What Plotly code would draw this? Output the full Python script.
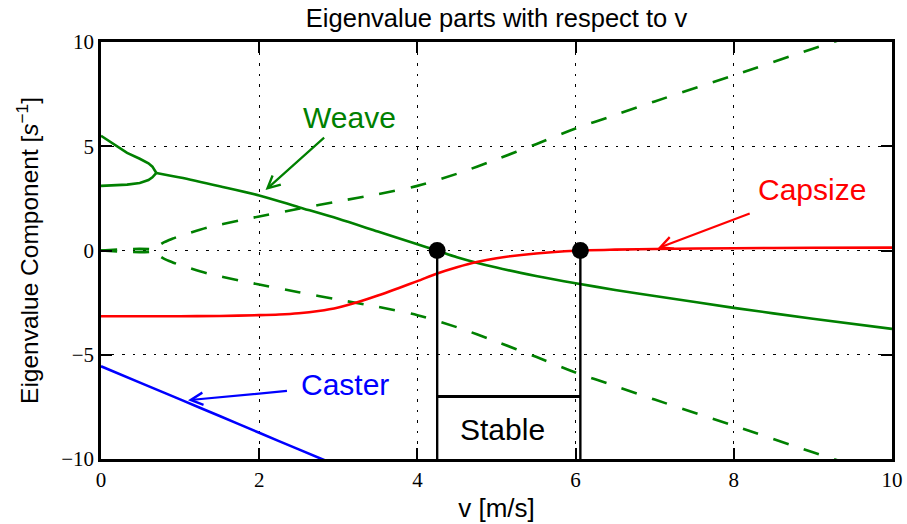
import plotly.graph_objects as go

# ---------------- data ----------------
# weave: two real roots before the bifurcation
weave_pre_speed = [0.0, 0.15, 0.33, 0.49, 0.60, 0.65, 0.70]
weave_pre_upper = [5.50, 5.12, 4.68, 4.40, 4.18, 4.02, 3.72]
weave_pre_lower = [3.10, 3.12, 3.16, 3.24, 3.38, 3.51, 3.72]

# weave: real part after the bifurcation (oscillatory)
weave_speed = [0.70, 1.0, 1.5, 2.0, 2.5, 3.0, 3.5, 4.0, 4.25, 4.5, 5.0, 5.5,
               6.0, 6.5, 7.0, 8.0, 9.0, 10.0]
weave_real = [3.72, 3.50, 3.08, 2.64, 2.08, 1.52, 0.91, 0.30, 0.0, -0.32, -0.82,
              -1.22, -1.57, -1.89, -2.18, -2.75, -3.27, -3.76]

# weave: imaginary part magnitude
imag_speed = [0.0, 0.70, 0.75, 0.80, 0.90, 1.0, 1.35, 1.75, 2.0, 2.5, 3.0, 3.5,
              4.0, 4.5, 5.0, 5.5, 6.0, 6.5, 7.0, 8.0, 9.0, 10.0]
weave_imag = [0.0, 0.0, 0.28, 0.40, 0.56, 0.70, 1.10, 1.44, 1.63, 2.00, 2.36, 2.70,
              3.10, 3.68, 4.37, 5.10, 5.85, 6.50, 7.15, 8.40, 9.68, 10.90]

# capsize
capsize_speed = [0.0, 1.0, 1.5, 2.0, 2.25, 2.5, 2.75, 3.0, 3.25, 3.5, 3.75, 4.0,
                 4.25, 4.5, 4.75, 5.0, 5.5, 6.0, 6.5, 7.0, 8.0, 9.0, 10.0]
capsize_real = [-3.15, -3.15, -3.14, -3.10, -3.07, -3.01, -2.90, -2.73, -2.47,
                -2.16, -1.82, -1.47, -1.10, -0.80, -0.55, -0.37, -0.14, -0.01,
                0.04, 0.07, 0.11, 0.13, 0.14]

# caster
caster_speed = [0.0, 0.5, 1.0, 1.5, 2.0, 2.5, 3.0]
caster_real = [-5.55, -6.35, -7.14, -7.94, -8.74, -9.54, -10.33]

# stable speed range
stable_bounds = [4.25, 6.06]
stable_floor = -10.0
stable_bar = -7.0

x_ticks = [0, 2, 4, 6, 8, 10]
y_ticks = [-10, -5, 0, 5, 10]

GREEN = "#008000"
RED = "#FF0000"
BLUE = "#0000FF"
SANS = "Liberation Sans, Arial, sans-serif"
SERIF = "Liberation Serif, DejaVu Serif, serif"
DASH = "16px,16px"
LW = 2.6

fig = go.Figure()

def add_line(x, y, color, dash="solid", width=LW, shape="spline"):
    fig.add_trace(go.Scatter(x=x, y=y, mode="lines",
                             line=dict(color=color, width=width, dash=dash,
                                       shape=shape, smoothing=0.8),
                             hoverinfo="skip", showlegend=False))

# weave
add_line(weave_pre_speed, weave_pre_upper, GREEN, shape="linear")
add_line(weave_pre_speed, weave_pre_lower, GREEN, shape="linear")
add_line(weave_speed, weave_real, GREEN)
add_line(imag_speed, weave_imag, GREEN, dash=DASH)
add_line(imag_speed, [-v for v in weave_imag], GREEN, dash=DASH)
# capsize
add_line(capsize_speed, capsize_real, RED)
# caster
add_line(caster_speed, caster_real, BLUE)

# stable region
for b in stable_bounds:
    add_line([b, b], [0, stable_floor], "black", width=2.4, shape="linear")
add_line(stable_bounds, [stable_bar, stable_bar], "black", width=3, shape="linear")
fig.add_trace(go.Scatter(x=stable_bounds, y=[0, 0], mode="markers",
                         marker=dict(color="black", size=17),
                         hoverinfo="skip", showlegend=False))

# text labels
def add_text(txt, x, y, color):
    fig.add_annotation(x=x, y=y, xref="x", yref="y", text=txt, showarrow=False,
                       font=dict(family=SANS, size=30, color=color))

add_text("Weave", 3.14, 6.4, GREEN)
add_text("Capsize", 8.99, 2.93, RED)
add_text("Caster", 3.08, -6.43, BLUE)
add_text("Stable", 5.07, -8.6, "black")

# arrows
def add_arrow(x, y, ax, ay, color):
    fig.add_annotation(x=x, y=y, ax=ax, ay=ay, xref="x", yref="y",
                       axref="x", ayref="y", text="", showarrow=True,
                       arrowhead=5, arrowsize=1.1, arrowwidth=2.2,
                       arrowcolor=color)

add_arrow(2.08, 2.90, 2.84, 5.48, GREEN)
add_arrow(7.04, 0.11, 8.22, 1.80, RED)
add_arrow(1.10, -7.18, 2.37, -6.73, BLUE)

axis_common = dict(showline=True, linewidth=2.5, linecolor="black",
                   mirror="allticks", ticks="inside", ticklen=11,
                   tickwidth=1.5, tickcolor="black", automargin=False,
                   showgrid=True, gridcolor="black", gridwidth=1,
                   griddash="2.5px,8px", zeroline=False,
                   tickfont=dict(family=SERIF, size=21, color="black"))

fig.update_layout(
    width=907, height=524,
    margin=dict(l=101, r=15, t=42, b=65, autoexpand=False),
    plot_bgcolor="white", paper_bgcolor="white",
    showlegend=False,
    title=dict(text="Eigenvalue parts with respect to v",
               x=0.5, xref="paper", y=1 - 18 / 524, yref="container",
               yanchor="middle", xanchor="center",
               font=dict(family=SANS, size=25.5, color="black")),
    xaxis=dict(range=[0, 10], tickvals=x_ticks,
               title=dict(text="v [m/s]", standoff=8,
                          font=dict(family=SANS, size=26, color="black")),
               **axis_common),
    yaxis=dict(range=[-10, 10], tickvals=y_ticks,
               title=dict(text="Eigenvalue Component [<i>s</i><sup>−1</sup>]",
                          standoff=16,
                          font=dict(family=SANS, size=24.5, color="black")),
               **axis_common),
)

fig.write_html("out.html")
